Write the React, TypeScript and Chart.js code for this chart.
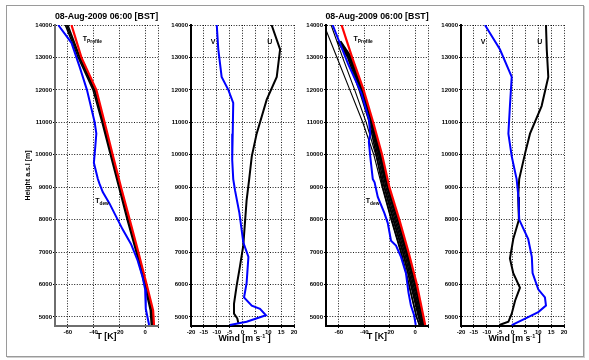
import React, { useEffect, useRef } from "react";
import { Chart, registerables } from "chart.js";

Chart.register(...registerables);

const W = 589;
const H = 360;
const FONT = "'Liberation Sans', Arial, sans-serif";
const TOP = 25;
const BOTTOM = 326;
const Y_MIN = 4720;
const Y_MAX = 14000;

// ---- tick values ----
const heightTicks = [5000, 6000, 7000, 8000, 9000, 10000, 11000, 12000, 13000, 14000];
const tempTicks = [-60, -40, -20, 0, 10];
const windTicks = [-20, -15, -10, -5, 0, 5, 10, 15, 20];

const TITLE = "08-Aug-2009 06:00 [BST]";

// ---- Panel 1: temperature ----
const p1Heights = [14000, 13000, 12000, 11000, 10000, 9000, 8000, 7000, 6000, 5200, 4750];
const p1TProfile = [-57.2, -49.5, -37.9, -31.5, -25.2, -18.7, -12.0, -5.3, 1.2, 6.2, 6.9];
const p1Member1 = [-62.0, -52.0, -40.5, -33.5, -27.0, -20.5, -14.0, -7.0, -0.5, 4.0, 4.8];
const p1Member2 = [-61.0, -51.0, -39.5, -32.8, -26.3, -19.8, -13.2, -6.4, 0.2, 4.8, 5.5];
const p1Member3 = [-60.0, -50.5, -39.0, -32.3, -25.8, -19.3, -12.7, -6.0, 0.6, 5.3, 6.0];
const p1DewHeights = [14000, 13450, 12700, 12000, 11000, 10650, 10250, 9750, 9250, 9100, 8850, 8500, 8100, 7700, 7250, 6750, 6250, 5850, 5250, 4750];
const p1TDew = [-67.5, -57.2, -50.8, -45.2, -39.2, -37.9, -38.7, -39.8, -36.7, -35.4, -32.9, -27.7, -22.6, -17.5, -11.0, -5.9, -2.1, 0.0, 0.5, 3.1];

// ---- Panel 2: wind ----
const p2UHeights = [14000, 13250, 12400, 11700, 10650, 9950, 9250, 8600, 7200, 6550, 5950, 5400, 5100, 4950, 4800];
const p2U = [11.3, 14.6, 13.3, 9.4, 5.5, 3.6, 2.6, 1.6, 0.3, -1.0, -2.3, -3.3, -3.3, -2.0, -1.6];
const p2VHeights = [14000, 13250, 12400, 12000, 11600, 10650, 9850, 9250, 8900, 8200, 7300, 6850, 6050, 5600, 5350, 5250, 5050, 4850, 4750];
const p2V = [-10.0, -9.4, -8.1, -5.5, -3.6, -3.8, -4.0, -3.6, -2.9, -1.2, 0.3, 2.3, 1.6, 0.6, 3.6, 6.8, 9.1, 1.6, -4.9];

// ---- Panel 3: temperature ----
const p3Heights = [14000, 13000, 12000, 11000, 10000, 9000, 8000, 7000, 6000, 5000, 4750];
const p3TProfile = [-57.8, -49.5, -40.5, -33.0, -26.0, -20.3, -12.5, -5.3, 1.3, 6.5, 7.8];
const p3Member1 = [-71.6, -61.4, -51.3, -41.2, -32.5, -26.0, -19.0, -11.5, -5.0, 1.0, 3.0];
const p3Member2 = [-66.0, -57.0, -47.5, -38.5, -31.0, -24.5, -17.5, -10.0, -3.5, 3.0, 5.0];
const p3BundleHeights = [13500, 13000, 12000, 11000, 10000, 9000, 8000, 7000, 6000, 5000, 4750];
const p3Member3 = [-61.0, -53.0, -44.0, -36.0, -30.5, -25.5, -18.5, -11.0, -5.0, 1.0, 3.5];
const p3Member4 = [-60.5, -52.0, -43.0, -35.0, -29.5, -24.0, -17.0, -9.5, -3.5, 2.5, 4.5];
const p3Member5 = [-60.0, -51.5, -42.5, -34.5, -28.5, -23.0, -16.0, -8.5, -2.5, 3.5, 5.5];
const p3Member6 = [-59.5, -51.0, -42.0, -34.0, -28.0, -22.0, -15.0, -7.5, -1.5, 4.2, 6.0];
const p3Member7 = [-59.0, -50.5, -41.5, -33.5, -27.3, -21.5, -14.0, -6.8, -0.5, 5.0, 6.5];
const p3Member8 = [-58.5, -50.0, -41.0, -33.5, -27.0, -21.0, -13.3, -6.2, 0.3, 5.6, 7.0];
const p3DewHeights = [14000, 12800, 11900, 11100, 10650, 10400, 9950, 9250, 9150, 8700, 8200, 7900, 7350, 7200, 6850, 6350, 5750, 5350, 5050, 4750];
const p3TDew = [-64.8, -52.7, -42.3, -36.4, -35.3, -36.4, -35.3, -33.3, -31.9, -29.4, -24.2, -21.6, -19.0, -15.1, -11.2, -7.3, -5.3, -3.4, -0.9, 0.4];

// ---- Panel 4: wind ----
const p4UHeights = [14000, 13250, 12400, 11500, 10650, 10050, 9250, 8700, 8000, 7400, 6800, 6350, 5900, 5500, 5100, 4850, 4750];
const p4U = [13.0, 13.3, 13.9, 11.3, 6.8, 4.9, 2.6, 2.2, 2.5, 0.3, -1.0, 0.3, 2.9, 1.0, -0.3, -1.6, -5.1];
const p4VHeights = [14000, 13250, 12400, 11500, 10650, 9950, 9250, 8700, 8000, 7400, 6850, 6350, 5850, 5600, 5350, 5150, 4950, 4750];
const p4V = [-10.7, -4.9, -0.3, -1.0, -1.6, -0.3, 1.6, 2.3, 2.6, 6.1, 7.5, 7.8, 10.0, 12.6, 13.0, 10.0, 4.9, -0.3];

// ---- annotation anchor positions (data coordinates) ----
const tProfileLabelPos = { x: -48.4, y: 13570 };
const tDewLabelPos = { x: -38.8, y: 8585 };
const vLabelPos = { x: -12.3, y: 13485 };
const uLabelPos = { x: 9.6, y: 13485 };

type Series = { xs: number[]; hs: number[]; color: string; width: number };
type Label = { x: number; y: number; main: string; sub?: string };
type PanelCfg = {
  left: number;
  right: number;
  xMin: number;
  xMax: number;
  xTicks: number[];
  axisColor: string;
  series: Series[];
  title?: string;
  xTitle: "T" | "Wind";
  yTitle?: boolean;
  labels: Label[];
};

const RED = "#ff0000";
const BLUE = "#0000ff";
const BLACK = "#000000";

function tempSeries(dew: Series, profile: Series, members: Series[]): Series[] {
  return [dew, profile, ...members];
}

const panels: PanelCfg[] = [
  {
    left: 55,
    right: 158,
    xMin: -70,
    xMax: 10,
    xTicks: tempTicks,
    axisColor: "#6e6e6e",
    title: TITLE,
    xTitle: "T",
    yTitle: true,
    series: tempSeries(
      { xs: p1TDew, hs: p1DewHeights, color: BLUE, width: 2 },
      { xs: p1TProfile, hs: p1Heights, color: RED, width: 2.2 },
      [
        { xs: p1Member1, hs: p1Heights, color: BLACK, width: 1.5 },
        { xs: p1Member2, hs: p1Heights, color: BLACK, width: 1.5 },
        { xs: p1Member3, hs: p1Heights, color: BLACK, width: 1.5 },
      ]
    ),
    labels: [
      { ...tProfileLabelPos, main: "T", sub: "Profile" },
      { ...tDewLabelPos, main: "T", sub: "dew" },
    ],
  },
  {
    left: 191,
    right: 294,
    xMin: -20,
    xMax: 20,
    xTicks: windTicks,
    axisColor: "#000000",
    xTitle: "Wind",
    series: [
      { xs: p2V, hs: p2VHeights, color: BLUE, width: 2 },
      { xs: p2U, hs: p2UHeights, color: BLACK, width: 2 },
    ],
    labels: [
      { ...vLabelPos, main: "V" },
      { ...uLabelPos, main: "U" },
    ],
  },
  {
    left: 326,
    right: 428,
    xMin: -70,
    xMax: 10,
    xTicks: tempTicks,
    axisColor: "#000000",
    title: TITLE,
    xTitle: "T",
    series: tempSeries(
      { xs: p3TDew, hs: p3DewHeights, color: BLUE, width: 2 },
      { xs: p3TProfile, hs: p3Heights, color: RED, width: 2.2 },
      [
        { xs: p3Member1, hs: p3Heights, color: BLACK, width: 1.1 },
        { xs: p3Member2, hs: p3Heights, color: BLACK, width: 1.1 },
        { xs: p3Member3, hs: p3BundleHeights, color: BLACK, width: 1.6 },
        { xs: p3Member4, hs: p3BundleHeights, color: BLACK, width: 1.6 },
        { xs: p3Member5, hs: p3BundleHeights, color: BLACK, width: 1.6 },
        { xs: p3Member6, hs: p3BundleHeights, color: BLACK, width: 1.6 },
        { xs: p3Member7, hs: p3BundleHeights, color: BLACK, width: 1.6 },
        { xs: p3Member8, hs: p3BundleHeights, color: BLACK, width: 1.6 },
      ]
    ),
    labels: [
      { ...tProfileLabelPos, main: "T", sub: "Profile" },
      { ...tDewLabelPos, main: "T", sub: "dew" },
    ],
  },
  {
    left: 461,
    right: 564,
    xMin: -20,
    xMax: 20,
    xTicks: windTicks,
    axisColor: "#000000",
    xTitle: "Wind",
    series: [
      { xs: p4V, hs: p4VHeights, color: BLUE, width: 2 },
      { xs: p4U, hs: p4UHeights, color: BLACK, width: 2 },
    ],
    labels: [
      { ...vLabelPos, main: "V" },
      { ...uLabelPos, main: "U" },
    ],
  },
];

function font(size: number) {
  return `bold ${size}px ${FONT}`;
}

function makeTextPlugin(cfg: PanelCfg) {
  return {
    id: "panelText",
    afterDraw(chart: any) {
      const ctx: CanvasRenderingContext2D = chart.ctx;
      const area = chart.chartArea;
      const xs = chart.scales.x;
      const ys = chart.scales.y;
      const cx = (area.left + area.right) / 2;
      ctx.save();
      ctx.fillStyle = "#000";
      ctx.textBaseline = "middle";
      if (cfg.title) {
        ctx.font = font(8.8);
        ctx.textAlign = "center";
        ctx.fillText(cfg.title, cx, area.top - 8);
      }
      ctx.font = font(8.8);
      if (cfg.xTitle === "T") {
        ctx.textAlign = "center";
        ctx.fillText("T [K]", cx, area.bottom + 11);
      } else {
        const a = "Wind [m s";
        const sup = "-1";
        const b = " ]";
        ctx.font = font(8.8);
        const wa = ctx.measureText(a).width;
        const wb = ctx.measureText(b).width;
        ctx.font = font(5.5);
        const ws = ctx.measureText(sup).width;
        const total = wa + ws + wb;
        let x = cx - total / 2 + 2;
        const y = area.bottom + 13;
        ctx.textAlign = "left";
        ctx.font = font(8.8);
        ctx.fillText(a, x, y);
        x += wa;
        ctx.font = font(5.5);
        ctx.fillText(sup, x, y - 3);
        x += ws;
        ctx.font = font(8.8);
        ctx.fillText(b, x, y);
      }
      if (cfg.yTitle) {
        ctx.save();
        ctx.translate(28.5, (area.top + area.bottom) / 2);
        ctx.rotate(-Math.PI / 2);
        ctx.textAlign = "center";
        ctx.font = font(7);
        ctx.fillText("Height a.s.l [m]", 0, 0);
        ctx.restore();
      }
      for (const l of cfg.labels) {
        const px = xs.getPixelForValue(l.x);
        const py = ys.getPixelForValue(l.y);
        ctx.textAlign = "left";
        ctx.font = font(7);
        ctx.fillText(l.main, px, py);
        if (l.sub) {
          const w = ctx.measureText(l.main).width;
          ctx.font = font(4.8);
          ctx.fillText(l.sub, px + w, py + 3);
        }
      }
      ctx.restore();
    },
  };
}

function Panel({ cfg }: { cfg: PanelCfg }) {
  const ref = useRef<HTMLCanvasElement>(null);
  useEffect(() => {
    const YW = 20;
    const XH = 10;
    const tickFont = { family: FONT, size: 6, weight: "bold" as const };
    const gridOpts = {
      color: "#000",
      lineWidth: 0.9,
      tickLength: 2,
      tickColor: "#000",
      tickWidth: 1,
    };
    const chart = new Chart(ref.current as HTMLCanvasElement, {
      type: "scatter",
      data: {
        datasets: cfg.series.map((s) => ({
          data: s.xs.map((x, i) => ({ x, y: s.hs[i] })),
          showLine: true,
          borderColor: s.color,
          backgroundColor: s.color,
          borderWidth: s.width,
          pointRadius: 0,
          pointHoverRadius: 0,
          tension: 0,
          fill: false,
        })),
      },
      options: {
        responsive: false,
        animation: false,
        devicePixelRatio: 1,
        events: [],
        layout: {
          padding: {
            left: cfg.left - YW,
            right: W - cfg.right,
            top: TOP,
            bottom: H - BOTTOM - XH,
          },
        },
        plugins: {
          legend: { display: false },
          tooltip: { enabled: false },
          title: { display: false },
        },
        scales: {
          x: {
            type: "linear",
            position: "bottom",
            min: cfg.xMin,
            max: cfg.xMax,
            afterBuildTicks: (s: any) => {
              s.ticks = cfg.xTicks.map((v) => ({ value: v }));
            },
            afterFit: (s: any) => {
              s.height = XH;
            },
            ticks: {
              autoSkip: false,
              maxRotation: 0,
              minRotation: 0,
              padding: 1,
              color: "#000",
              font: tickFont,
              callback: (v: any) => (cfg.xMin === -70 && v === 10 ? "" : String(v)),
            },
            grid: gridOpts,
            border: { color: cfg.axisColor, width: 2, dash: [1, 1.6] },
          },
          y: {
            type: "linear",
            position: "left",
            min: Y_MIN,
            max: Y_MAX,
            afterBuildTicks: (s: any) => {
              s.ticks = heightTicks.map((v) => ({ value: v }));
            },
            afterFit: (s: any) => {
              s.width = YW;
            },
            ticks: {
              autoSkip: false,
              padding: 1,
              color: "#000",
              font: tickFont,
              callback: (v: any) => String(v),
            },
            grid: gridOpts,
            border: { color: cfg.axisColor, width: 2, dash: [1, 1.6] },
          },
        },
      },
      plugins: [makeTextPlugin(cfg)],
    } as any);
    return () => chart.destroy();
  }, [cfg]);
  return (
    <canvas
      ref={ref}
      width={W}
      height={H}
      style={{ position: "absolute", left: 0, top: 0, width: W, height: H }}
    />
  );
}

export default function App() {
  return (
    <div style={{ position: "absolute", left: 0, top: 0, width: W, height: H, background: "#fff" }}>
      <div
        style={{
          position: "absolute",
          left: 6,
          top: 5,
          width: 578,
          height: 352,
          boxSizing: "border-box",
          border: "1px solid #9a9a9a",
          boxShadow: "1px 1px 0 #cfcfcf",
        }}
      />
      {panels.map((p, i) => (
        <Panel key={i} cfg={p} />
      ))}
    </div>
  );
}
